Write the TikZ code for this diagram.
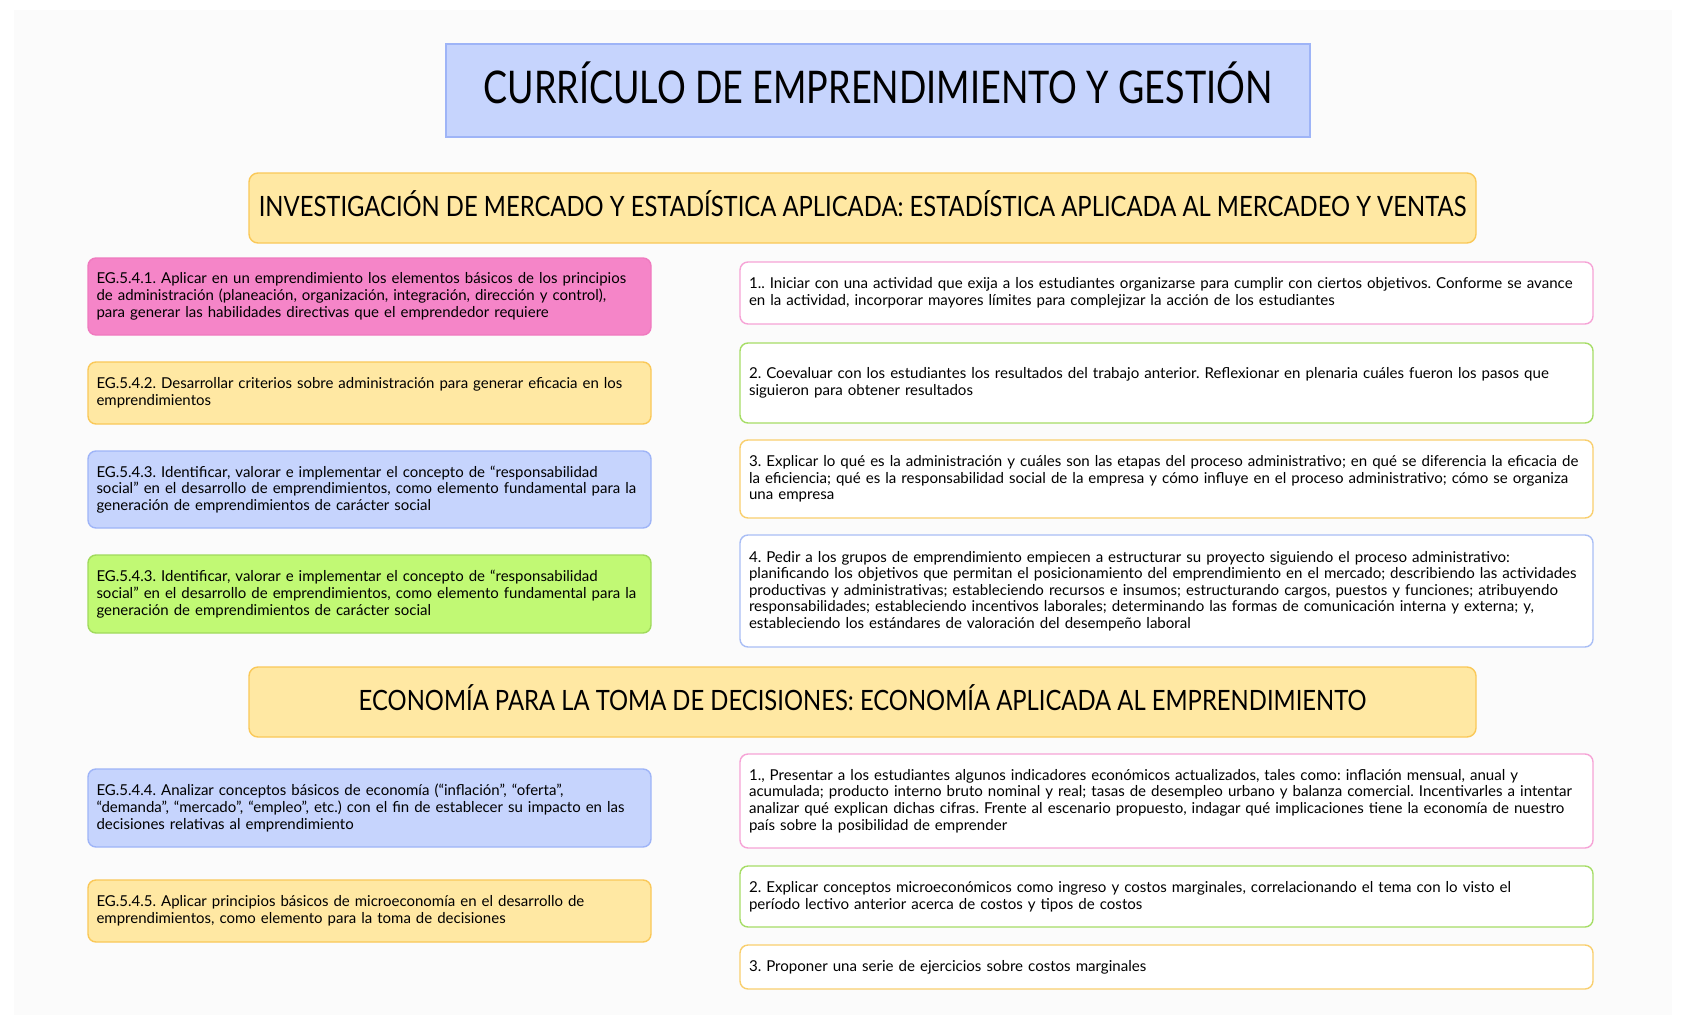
\documentclass[tikz,border=0pt]{standalone}
\usepackage{fontspec}
\setmainfont{Lato}
\newfontfamily\bodyfont[FakeStretch=1.005]{Lato}
\newfontfamily\leftfont[FakeStretch=1.0]{Lato}
\newfontfamily\capfont[FakeStretch=0.80]{Lato}
\newfontfamily\hdfont[FakeStretch=0.85]{Lato}
\frenchspacing
\definecolor{bgc}{HTML}{FBFBFB}
\definecolor{bluefill}{HTML}{C6D4FD}
\definecolor{blueline}{HTML}{9EB4F7}
\definecolor{yelfill}{HTML}{FFE8A3}
\definecolor{yelline}{HTML}{FAC858}
\definecolor{pinkfill}{HTML}{F585C8}
\definecolor{pinkline}{HTML}{F07ABF}
\definecolor{grnfill}{HTML}{C1F974}
\definecolor{grnline}{HTML}{A0DA5C}
\definecolor{rpink}{HTML}{F6A3D6}
\definecolor{rgreen}{HTML}{A6DD66}
\definecolor{ryel}{HTML}{F9CF6E}
\definecolor{rblue}{HTML}{A9BEF5}
\tikzset{
  box/.style={rounded corners=8pt, line width=1.4pt, inner ysep=0pt,
    align=left, anchor=center},
  lbox/.style={box, inner xsep=8.5pt, minimum width=563pt, text width=546pt, font=\leftfont\fontsize{15}{16.7}\selectfont},
  rbox/.style={box, inner xsep=9pt, fill=white, minimum width=853pt, text width=835pt, font=\bodyfont\fontsize{15}{16.6}\selectfont},
  header/.style={rounded corners=9pt, line width=1.4pt, fill=yelfill, draw=yelline,
    minimum width=1227pt, minimum height=70pt, inner ysep=0pt, text height=20pt, text depth=4pt,
    align=center, font=\hdfont\fontsize{28}{32}\selectfont},
  titlebox/.style={line width=1.4pt, fill=bluefill, draw=blueline,
    minimum width=864pt, minimum height=93pt, inner ysep=0pt, text height=32pt, text depth=6pt,
    align=center, font=\capfont\fontsize{45}{50}\selectfont}
}
\begin{document}
\begin{tikzpicture}[x=1pt,y=-1pt]
\useasboundingbox (0,0) rectangle (1686,1025);
\fill[white] (0,0) rectangle (1686,1025);
\fill[bgc] (14,10) rectangle (1672,1015);

\node[titlebox] (title) at (878,90.5) {CURRÍCULO DE EMPRENDIMIENTO Y GESTIÓN};

\node[header] (h1) at (862.5,208) {INVESTIGACIÓN DE MERCADO Y ESTADÍSTICA APLICADA: ESTADÍSTICA APLICADA AL MERCADEO Y VENTAS};
\node[header] (h2) at (862.5,702) {ECONOMÍA PARA LA TOMA DE DECISIONES: ECONOMÍA APLICADA AL EMPRENDIMIENTO};

\node[lbox, fill=pinkfill, draw=pinkline, minimum height=77pt] (l1) at (369.5,296.5)
 {EG.5.4.1. Aplicar en un emprendimiento los elementos básicos de los principios\\de administración (planeación, organización, integración, dirección y control),\\para generar las habilidades directivas que el emprendedor requiere};
\node[lbox, fill=yelfill, draw=yelline, minimum height=62pt] (l2) at (369.5,393)
 {EG.5.4.2. Desarrollar criterios sobre administración para generar eficacia en los\\emprendimientos};
\node[lbox, fill=bluefill, draw=blueline, minimum height=77pt] (l3) at (369.5,489.5)
 {EG.5.4.3. Identificar, valorar e implementar el concepto de “responsabilidad\\social” en el desarrollo de emprendimientos, como elemento fundamental para la\\generación de emprendimientos de carácter social};
\node[lbox, fill=grnfill, draw=grnline, minimum height=78pt] (l4) at (369.5,594)
 {EG.5.4.3. Identificar, valorar e implementar el concepto de “responsabilidad\\social” en el desarrollo de emprendimientos, como elemento fundamental para la\\generación de emprendimientos de carácter social};
\node[lbox, fill=bluefill, draw=blueline, minimum height=78pt] (l5) at (369.5,808)
 {EG.5.4.4. Analizar conceptos básicos de economía (“inflación”, “oferta”,\\“demanda”, “mercado”, “empleo”, etc.) con el fin de establecer su impacto en las\\decisiones relativas al emprendimiento};
\node[lbox, fill=yelfill, draw=yelline, minimum height=62pt] (l6) at (369.5,911)
 {EG.5.4.5. Aplicar principios básicos de microeconomía en el desarrollo de\\emprendimientos, como elemento para la toma de decisiones};

\node[rbox, draw=rpink, minimum height=62pt] (r1) at (1166.5,293)
 {1.. Iniciar con una actividad que exija a los estudiantes organizarse para cumplir con ciertos objetivos. Conforme se avance\\en la actividad, incorporar mayores límites para complejizar la acción de los estudiantes};
\node[rbox, draw=rgreen, minimum height=80pt] (r2) at (1166.5,383)
 {2. Coevaluar con los estudiantes los resultados del trabajo anterior. Reflexionar en plenaria cuáles fueron los pasos que\\siguieron para obtener resultados};
\node[rbox, draw=ryel, minimum height=78pt] (r3) at (1166.5,479)
 {3. Explicar lo qué es la administración y cuáles son las etapas del proceso administrativo; en qué se diferencia la eficacia de\\la eficiencia; qué es la responsabilidad social de la empresa y cómo influye en el proceso administrativo; cómo se organiza\\una empresa};
\node[rbox, draw=rblue, minimum height=112pt] (r4) at (1166.5,591)
 {4. Pedir a los grupos de emprendimiento empiecen a estructurar su proyecto siguiendo el proceso administrativo:\\planificando los objetivos que permitan el posicionamiento del emprendimiento en el mercado; describiendo las actividades\\productivas y administrativas; estableciendo recursos e insumos; estructurando cargos, puestos y funciones; atribuyendo\\responsabilidades; estableciendo incentivos laborales; determinando las formas de comunicación interna y externa; y,\\estableciendo los estándares de valoración del desempeño laboral};
\node[rbox, draw=rpink, minimum height=94pt] (r5) at (1166.5,801)
 {1., Presentar a los estudiantes algunos indicadores económicos actualizados, tales como: inflación mensual, anual y\\acumulada; producto interno bruto nominal y real; tasas de desempleo urbano y balanza comercial. Incentivarles a intentar\\analizar qué explican dichas cifras. Frente al escenario propuesto, indagar qué implicaciones tiene la economía de nuestro\\país sobre la posibilidad de emprender};
\node[rbox, draw=rgreen, minimum height=61pt] (r6) at (1166.5,896.5)
 {2. Explicar conceptos microeconómicos como ingreso y costos marginales, correlacionando el tema con lo visto el\\período lectivo anterior acerca de costos y tipos de costos};
\node[rbox, draw=ryel, minimum height=44pt] (r7) at (1166.5,967)
 {3. Proponer una serie de ejercicios sobre costos marginales};
\end{tikzpicture}
\end{document}
